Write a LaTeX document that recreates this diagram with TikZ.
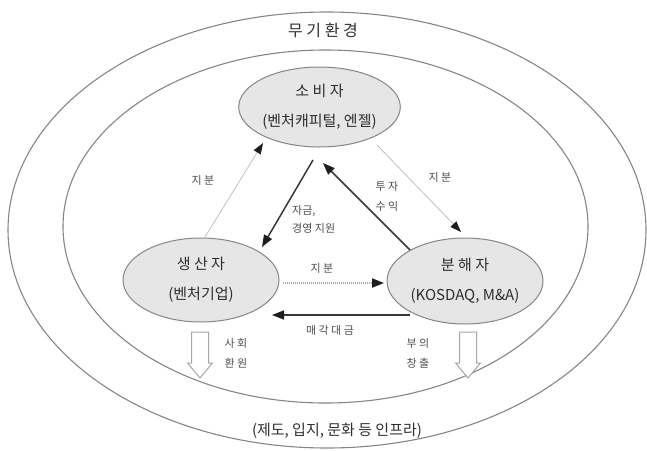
\documentclass[tikz,border=0pt]{standalone}
\usepackage{fontspec}
\setmainfont{Noto Sans CJK KR}
\usetikzlibrary{shapes.geometric,arrows.meta}
\definecolor{txt}{HTML}{2E2E2E}
\definecolor{edge}{HTML}{858585}
\definecolor{fillg}{HTML}{E6E6E6}
\definecolor{tipc}{HTML}{1E1E1E}
\begin{document}
\begin{tikzpicture}[x=1pt,y=-1pt,
  ring/.style={draw=edge, line width=1.1pt, ellipse, inner sep=0pt},
  actor/.style={draw=edge, fill=fillg, line width=1pt, ellipse, inner sep=0pt,
    minimum width=156pt, minimum height=82pt, align=center, text=txt,
    font=\fontsize{15}{30}\selectfont},
  lbl/.style={text=txt!85, font=\fontsize{11}{20}\selectfont, align=center, inner sep=0pt},
  big/.style={text=txt, inner sep=0pt},
  thinarr/.style={draw=gray!50, line width=0.8pt, -{Triangle[length=11pt,width=8pt,color=tipc]}},
  thickarr/.style={draw=black!78, line width=1.5pt, -{Triangle[length=12pt,width=9pt,color=tipc]}},
  dotarr/.style={draw=gray!70, line width=2pt, dash pattern=on 1pt off 1pt, -{Triangle[length=12pt,width=9pt,color=tipc]}},
  hollow/.style={draw=gray!70, line width=1pt, fill=white, line join=miter}
]
\useasboundingbox (0,0) rectangle (647,450);
% environment rings
\node[ring, minimum width=638pt, minimum height=436pt] (env) at (327,230) {};
\node[ring, minimum width=525pt, minimum height=353pt] (eco) at (325.5,226.5) {};
\node[big, font=\fontsize{16}{18}\selectfont] (title) at (323,30) {무 기 환 경};
\node[big, font=\fontsize{15}{18}\selectfont] (infra) at (337,431) {(제도, 입지, 문화 등 인프라)};
% actors
\node[actor, minimum height=80pt] (con) at (319.5,107) {소 비 자\\(벤처캐피털, 엔젤)};
\node[actor, minimum height=84pt] (pro) at (201,280) {생 산 자\\(벤처기업)};
\node[actor, minimum height=86pt] (dec) at (465,281) {분 해 자\\(KOSDAQ, M\&A)};
% arrow end points
\coordinate (a1s) at (205,237); \coordinate (a1e) at (263,143);
\coordinate (a2s) at (313,160); \coordinate (a2e) at (262,247);
\coordinate (a3s) at (410,250); \coordinate (a3e) at (323,163);
\coordinate (a4s) at (377,145); \coordinate (a4e) at (461,232);
\coordinate (a5s) at (283,283); \coordinate (a5e) at (384,283);
\coordinate (a6s) at (410,315); \coordinate (a6e) at (272,315);
\draw[thinarr] (a1s) -- (a1e);
\draw[thickarr] (a2s) -- (a2e);
\draw[thickarr] (a3s) -- (a3e);
\draw[thinarr] (a4s) -- (a4e);
\draw[dotarr] (a5s) -- (a5e);
\draw[thickarr] (a6s) -- (a6e);
% hollow down arrows
\coordinate (hl) at (200,332);
\coordinate (hr) at (468,332);
\draw[hollow] ([xshift=-8.5pt]hl) -- ++(0,31) -- ++(-4,0) -- ++(12.5,15) -- ++(12.5,-15) -- ++(-4,0) -- ++(0,-31) -- cycle;
\draw[hollow] ([xshift=-8.5pt]hr) -- ++(0,31) -- ++(-4,0) -- ++(12.5,15) -- ++(12.5,-15) -- ++(-4,0) -- ++(0,-31) -- cycle;
% labels
\node[lbl] (l1) at (203,180) {지 분};
\node[lbl, align=left, anchor=west, font=\fontsize{11}{18}\selectfont] (l2) at (292,219) {자금,\\경영 지원};
\node[lbl] (l3) at (387,196) {투 자\\수 익};
\node[lbl] (l4) at (440,177) {지 분};
\node[lbl] (l5) at (322,268) {지 분};
\node[lbl] (l6) at (330,330) {매 각 대 금};
\node[lbl] (l7) at (236,353) {사 회\\환 원};
\node[lbl] (l8) at (418,353) {부 의\\창 출};
\end{tikzpicture}
\end{document}
